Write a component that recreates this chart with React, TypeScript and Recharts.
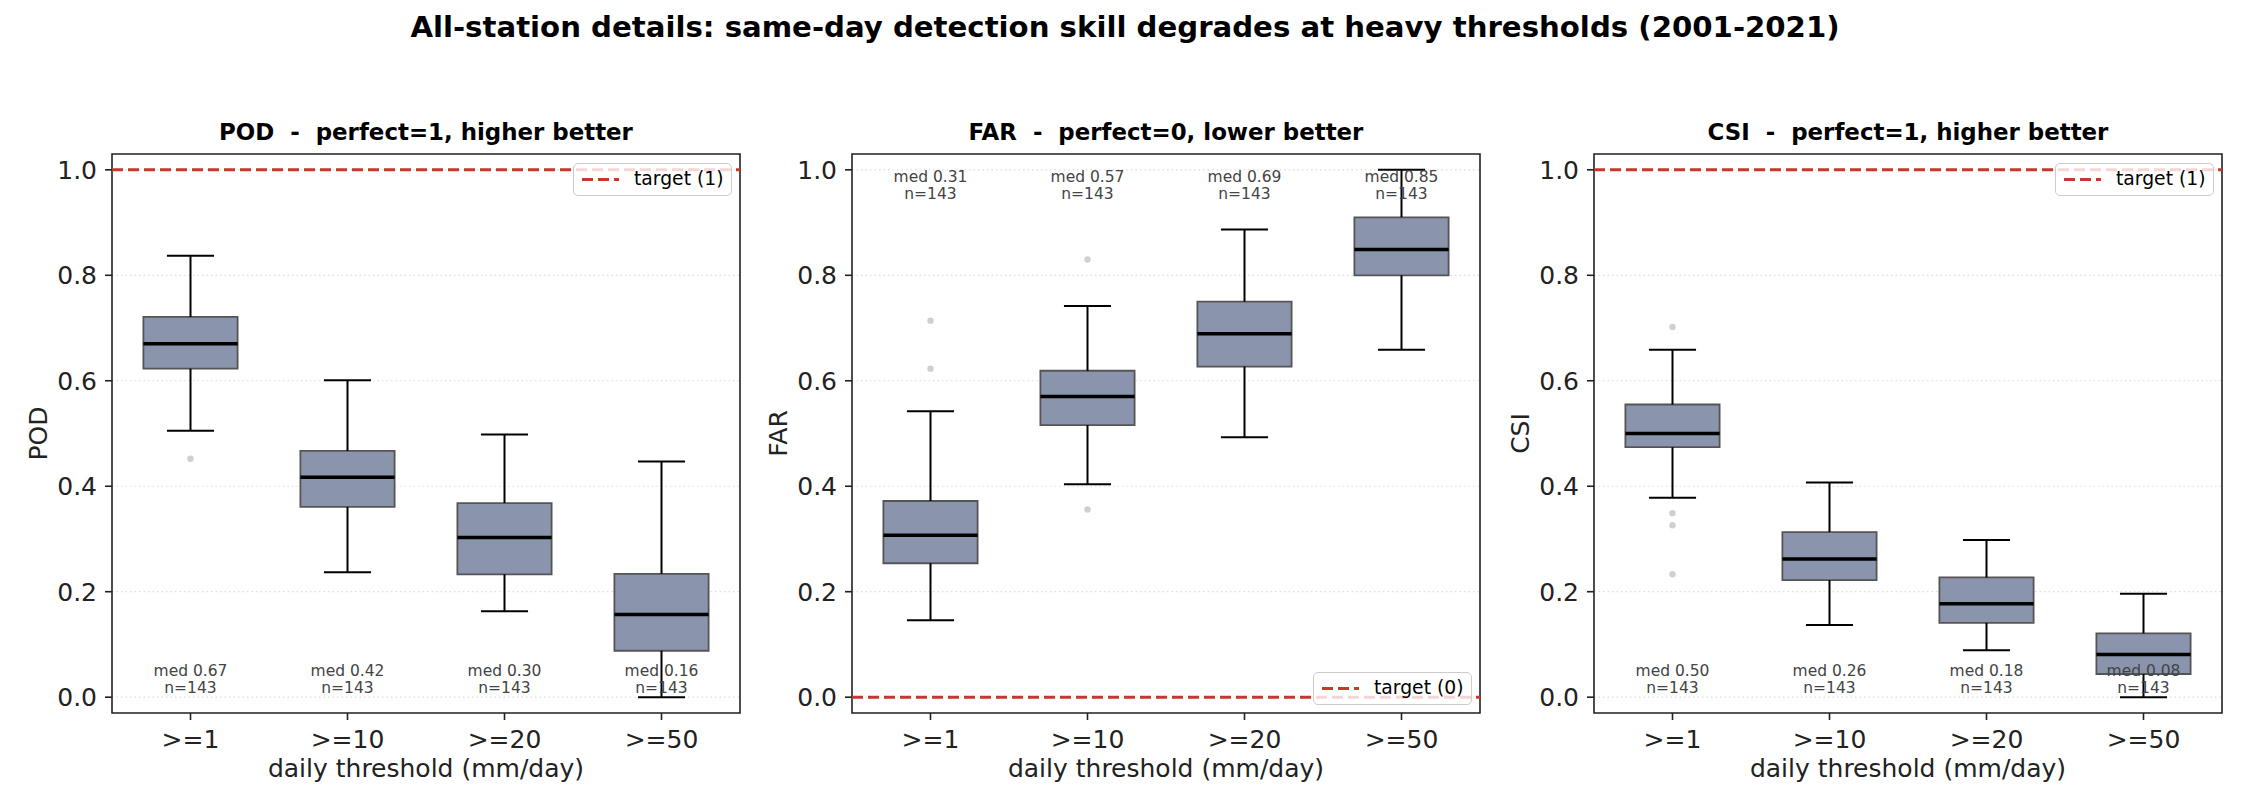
import React from "react";
import {
  ComposedChart,
  XAxis,
  YAxis,
  CartesianGrid,
  ReferenceArea,
  ReferenceLine,
  Scatter,
} from "recharts";

const thresholds = [">=1", ">=10", ">=20", ">=50"];
const stationCount = [143, 143, 143, 143];

// POD box stats per threshold
const podLow = [0.505, 0.237, 0.163, 0.0];
const podQ1 = [0.623, 0.361, 0.233, 0.088];
const podMed = [0.67, 0.417, 0.303, 0.157];
const podQ3 = [0.721, 0.467, 0.368, 0.234];
const podHigh = [0.837, 0.601, 0.498, 0.447];
const podOutliers = [[0.452], [], [], []];

// FAR box stats
const farLow = [0.146, 0.404, 0.493, 0.659];
const farQ1 = [0.254, 0.516, 0.627, 0.8];
const farMed = [0.307, 0.57, 0.689, 0.849];
const farQ3 = [0.372, 0.619, 0.75, 0.91];
const farHigh = [0.542, 0.742, 0.887, 1.0];
const farOutliers = [[0.714, 0.623], [0.83, 0.356], [], []];

// CSI box stats
const csiLow = [0.378, 0.137, 0.089, 0.0];
const csiQ1 = [0.474, 0.222, 0.141, 0.044];
const csiMed = [0.5, 0.262, 0.177, 0.081];
const csiQ3 = [0.555, 0.313, 0.227, 0.121];
const csiHigh = [0.659, 0.407, 0.298, 0.196];
const csiOutliers = [[0.702, 0.349, 0.326, 0.233], [], [], []];

const yTicks = [0, 0.2, 0.4, 0.6, 0.8, 1.0];

const FONT = "'DejaVu Sans', sans-serif";
const BOX_FILL = "#8a95ad";
const BOX_EDGE = "#555555";
const TARGET_RED = "#c8372d";
const INK = "#222222";

const PANEL_W = 750;
const PANEL_H = 810;
const MARGIN = { top: 154, right: 10, bottom: 37, left: 42 };
const Y_AXIS_W = 70;
const X_AXIS_H = 60;

interface PanelSpec {
  metric: string;
  title: string;
  low: number[];
  q1: number[];
  med: number[];
  q3: number[];
  high: number[];
  outliers: number[][];
  target: number;
  // where the med/n notes and the legend sit
  notesAtTop: boolean;
}

const panels: PanelSpec[] = [
  {
    metric: "POD",
    title: "POD  -  perfect=1, higher better",
    low: podLow, q1: podQ1, med: podMed, q3: podQ3, high: podHigh,
    outliers: podOutliers,
    target: 1,
    notesAtTop: false,
  },
  {
    metric: "FAR",
    title: "FAR  -  perfect=0, lower better",
    low: farLow, q1: farQ1, med: farMed, q3: farQ3, high: farHigh,
    outliers: farOutliers,
    target: 0,
    notesAtTop: true,
  },
  {
    metric: "CSI",
    title: "CSI  -  perfect=1, higher better",
    low: csiLow, q1: csiQ1, med: csiMed, q3: csiQ3, high: csiHigh,
    outliers: csiOutliers,
    target: 1,
    notesAtTop: false,
  },
];

const panelLefts = [0, 740, 1482];

function OutlierDot(props: any) {
  const { cx, cy } = props;
  if (cx == null || cy == null) return null;
  return <circle cx={cx} cy={cy} r={3.2} fill="#d0d0d0" />;
}

function NoteLabel(props: any) {
  const { cx, cy, payload } = props;
  if (cx == null || cy == null) return null;
  const lineGap = 17.5;
  const first = payload.top ? cy + 12 : cy - 3.7 - lineGap;
  return (
    <g fontFamily={FONT} fontSize={15.5} fill="#444444" textAnchor="middle">
      <text x={cx} y={first}>{`med ${payload.med.toFixed(2)}`}</text>
      <text x={cx} y={first + lineGap}>{`n=${payload.n}`}</text>
    </g>
  );
}

function TargetLegend({ target, atTop }: { target: number; atTop: boolean }) {
  const plotRight = PANEL_W - MARGIN.right;
  const plotBottom = PANEL_H - MARGIN.bottom - X_AXIS_H;
  const style: React.CSSProperties = {
    position: "absolute",
    left: plotRight - 8 - 159,
    width: 159,
    height: 33,
    boxSizing: "border-box",
    border: "1.5px solid #cccccc",
    borderRadius: 5,
    background: "rgba(255,255,255,0.8)",
    fontFamily: FONT,
    fontSize: 18.75,
    color: "#000",
  };
  if (atTop) style.top = MARGIN.top + 9;
  else style.top = plotBottom - 8.5 - 33;
  return (
    <div style={style}>
      <svg width={50} height={30} style={{ position: "absolute", left: 0, top: 0 }}>
        <line x1={8} x2={45} y1={15.5} y2={15.5} stroke={TARGET_RED} strokeWidth={3} strokeDasharray="11 5" />
      </svg>
      <span style={{ position: "absolute", left: 60, top: 3, lineHeight: "24px", whiteSpace: "pre" }}>
        {`target (${target})`}
      </span>
    </div>
  );
}

function BoxPanel({ spec, left }: { spec: PanelSpec; left: number }) {
  const outlierPts = spec.outliers.flatMap((vals, i) => vals.map((v) => ({ x: i + 1, y: v })));
  const notePts = thresholds.map((_, i) => ({
    x: i + 1,
    y: spec.notesAtTop ? 1 : 0,
    med: spec.med[i],
    n: stationCount[i],
    top: spec.notesAtTop,
  }));
  const plotLeft = MARGIN.left + Y_AXIS_W;
  const plotRight = PANEL_W - MARGIN.right;

  const xTitle = (props: any) => {
    const vb = props.viewBox;
    return (
      <text x={vb.x + vb.width / 2} y={vb.y + 63.5} textAnchor="middle" fontFamily={FONT} fontSize={25} fill={INK}>
        daily threshold (mm/day)
      </text>
    );
  };
  const yTitle = (props: any) => {
    const vb = props.viewBox;
    const x = vb.x + vb.width - 65.3;
    const y = vb.y + vb.height / 2;
    return (
      <text x={x} y={y} transform={`rotate(-90 ${x} ${y})`} textAnchor="middle" fontFamily={FONT} fontSize={25} fill={INK}>
        {spec.metric}
      </text>
    );
  };

  return (
    <div style={{ position: "absolute", left, top: 0, width: PANEL_W, height: PANEL_H }}>
      <svg width={PANEL_W} height={150} style={{ position: "absolute", left: 0, top: 0 }}>
        <text
          x={(plotLeft + plotRight) / 2}
          y={139.5}
          textAnchor="middle"
          fontFamily={FONT}
          fontWeight="bold"
          fontSize={22.9}
          fill="#000"
          style={{ whiteSpace: "pre" }}
        >
          {spec.title}
        </text>
      </svg>
      <ComposedChart width={PANEL_W} height={PANEL_H} margin={MARGIN}>
        <CartesianGrid vertical={false} stroke="#dddddd" strokeDasharray="1.5 3" strokeWidth={1.2} />
        <XAxis
          type="number"
          dataKey="x"
          domain={[0.5, 4.5]}
          ticks={[1, 2, 3, 4]}
          interval={0}
          allowDataOverflow
          tickFormatter={(v: number) => thresholds[v - 1]}
          axisLine={false}
          tickSize={7}
          tickMargin={10}
          tickLine={{ stroke: INK, strokeWidth: 1.6 }}
          tick={{ fill: INK, fontSize: 25, fontFamily: FONT }}
          height={X_AXIS_H}
          label={xTitle}
        />
        <YAxis
          type="number"
          dataKey="y"
          domain={[-0.03, 1.03]}
          ticks={yTicks}
          interval={0}
          allowDataOverflow
          tickFormatter={(v: number) => v.toFixed(1)}
          axisLine={false}
          tickSize={7}
          tickMargin={8}
          tickLine={{ stroke: INK, strokeWidth: 1.6 }}
          tick={{ fill: INK, fontSize: 25, fontFamily: FONT }}
          width={Y_AXIS_W}
          label={yTitle}
        />

        {/* whiskers and caps */}
        {thresholds.map((_, i) => {
          const x = i + 1;
          return (
            <React.Fragment key={`w${i}`}>
              <ReferenceLine segment={[{ x, y: spec.low[i] }, { x, y: spec.q1[i] }]} stroke="#000" strokeWidth={2} ifOverflow="visible" />
              <ReferenceLine segment={[{ x, y: spec.q3[i] }, { x, y: spec.high[i] }]} stroke="#000" strokeWidth={2} ifOverflow="visible" />
              <ReferenceLine segment={[{ x: x - 0.15, y: spec.low[i] }, { x: x + 0.15, y: spec.low[i] }]} stroke="#000" strokeWidth={2} ifOverflow="visible" />
              <ReferenceLine segment={[{ x: x - 0.15, y: spec.high[i] }, { x: x + 0.15, y: spec.high[i] }]} stroke="#000" strokeWidth={2} ifOverflow="visible" />
            </React.Fragment>
          );
        })}

        {/* interquartile boxes */}
        {thresholds.map((_, i) => (
          <ReferenceArea
            key={`b${i}`}
            x1={i + 1 - 0.3}
            x2={i + 1 + 0.3}
            y1={spec.q1[i]}
            y2={spec.q3[i]}
            fill={BOX_FILL}
            fillOpacity={1}
            stroke={BOX_EDGE}
            strokeWidth={1.8}
            ifOverflow="visible"
          />
        ))}

        {/* medians */}
        {thresholds.map((_, i) => (
          <ReferenceLine
            key={`m${i}`}
            segment={[{ x: i + 1 - 0.3, y: spec.med[i] }, { x: i + 1 + 0.3, y: spec.med[i] }]}
            stroke="#000"
            strokeWidth={3.5}
            ifOverflow="visible"
          />
        ))}

        <Scatter data={outlierPts} dataKey="y" shape={OutlierDot} isAnimationActive={false} />
        <Scatter data={notePts} dataKey="y" shape={NoteLabel} isAnimationActive={false} />

        <ReferenceLine y={spec.target} stroke={TARGET_RED} strokeWidth={3} strokeDasharray="11 5" ifOverflow="visible" />

        {/* axes frame */}
        <ReferenceArea x1={0.5} x2={4.5} y1={-0.03} y2={1.03} fill="none" fillOpacity={0} stroke={INK} strokeWidth={1.6} ifOverflow="visible" />
      </ComposedChart>
      <TargetLegend target={spec.target} atTop={!spec.notesAtTop} />
    </div>
  );
}

export default function App() {
  return (
    <div style={{ position: "absolute", left: 0, top: 0, width: 2250, height: 810, background: "#fff" }}>
      <svg width={2250} height={60} style={{ position: "absolute", left: 0, top: 0 }}>
        <text x={1125} y={36.5} textAnchor="middle" fontFamily={FONT} fontWeight="bold" fontSize={29.2} fill="#000">
          All-station details: same-day detection skill degrades at heavy thresholds (2001-2021)
        </text>
      </svg>
      {panels.map((p, i) => (
        <BoxPanel key={p.metric} spec={p} left={panelLefts[i]} />
      ))}
    </div>
  );
}
